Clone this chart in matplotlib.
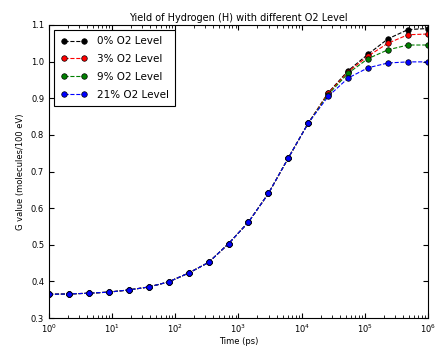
import numpy as np
import matplotlib
matplotlib.use("Agg")
import matplotlib.pyplot as plt

time_ps = np.logspace(0, 6, 20)
base = [0.365, 0.366, 0.368, 0.371, 0.377, 0.385, 0.399, 0.423, 0.452, 0.503,
        0.562, 0.640, 0.737, 0.832]
g_0 = base + [0.915, 0.975, 1.020, 1.062, 1.087, 1.090]
g_3 = base + [0.913, 0.972, 1.015, 1.050, 1.073, 1.075]
g_9 = base + [0.910, 0.968, 1.008, 1.032, 1.045, 1.045]
g_21 = base + [0.905, 0.955, 0.983, 0.996, 0.999, 0.999]
labels = ["0% O2 Level", "3% O2 Level", "9% O2 Level", "21% O2 Level"]
colors = ["k", "r", "g", "b"]

fig = plt.figure(figsize=(4.38, 3.5), dpi=100)
ax = fig.add_axes([0.112, 0.091, 0.865, 0.838])
for ys, lab, c in zip([g_0, g_3, g_9, g_21], labels, colors):
    ax.plot(time_ps, ys, linestyle="--", marker="o", color=c, markersize=4,
            markeredgecolor="k", markeredgewidth=0.5, linewidth=0.8, label=lab)
ax.set_xscale("log")
ax.set_xlim(1, 1e6)
ax.set_ylim(0.3, 1.1)
ax.set_yticks(np.arange(0.3, 1.11, 0.1))
ax.tick_params(labelsize=6, direction="in", top=True, right=True)
ax.tick_params(which="minor", direction="in", top=True, right=True)
ax.set_title("Yield of Hydrogen (H) with different O2 Level", fontsize=7, pad=3)
ax.set_xlabel("Time (ps)", fontsize=6, labelpad=1)
ax.set_ylabel("G value (molecules/100 eV)", fontsize=6)
leg = ax.legend(loc="upper left", fontsize=7.5, numpoints=2, fancybox=False,
                framealpha=1, edgecolor="k", handlelength=2.6,
                labelspacing=0.75, borderpad=0.6, handletextpad=0.9)
leg.get_frame().set_linewidth(0.8)
fig.savefig("out.png", dpi=100, facecolor="white")
